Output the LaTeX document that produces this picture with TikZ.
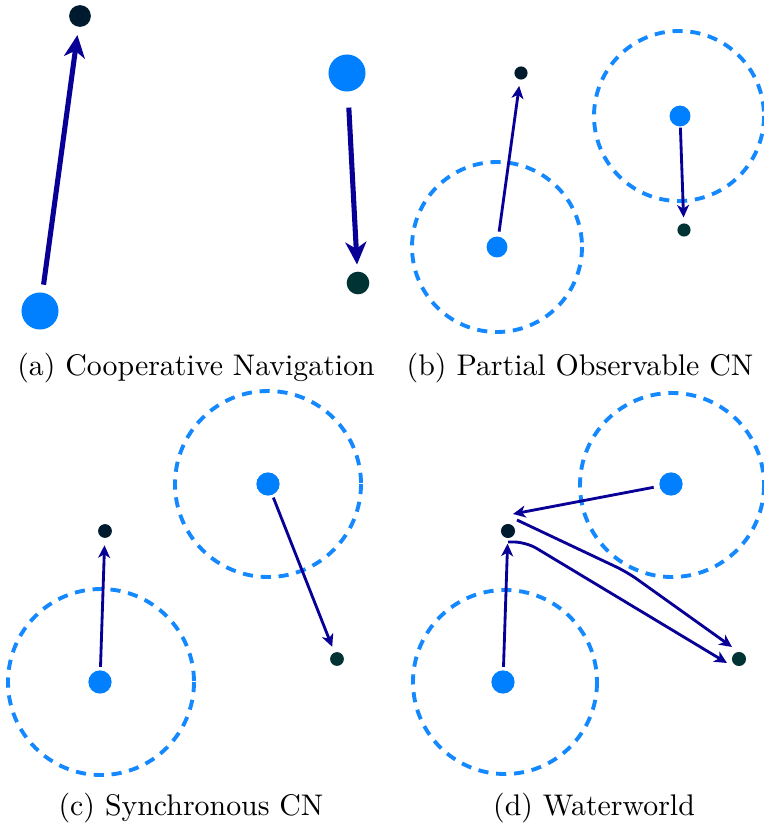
\documentclass[tikz,border=0pt]{standalone}
\usetikzlibrary{arrows.meta}
\definecolor{agentblue}{RGB}{0,128,255}
\definecolor{ringblue}{RGB}{20,136,255}
\definecolor{arrowblue}{RGB}{8,0,150}
\definecolor{goalnavy}{RGB}{0,26,46}
\definecolor{goalteal}{RGB}{0,52,52}
\tikzset{
  agent/.style={circle, fill=agentblue, inner sep=0pt, minimum size=#1},
  goalA/.style={circle, fill=goalnavy, inner sep=0pt, minimum size=#1},
  goalB/.style={circle, fill=goalteal, inner sep=0pt, minimum size=#1},
  ring/.style={draw=ringblue, line width=1.3pt, dash pattern=on 3.4pt off 2.6pt},
  bigarrow/.style={draw=arrowblue, line width=1.7pt, -{Stealth[length=7.5pt,width=7pt,inset=2.2pt]}},
  thinarrow/.style={draw=arrowblue, line width=0.95pt, -{Stealth[length=4.2pt,width=4pt,inset=1.2pt]}},
  caption/.style={inner sep=0pt, font=\fontsize{10}{12}\selectfont}
}
\begin{document}
\begin{tikzpicture}[x=0.335pt, y=-0.335pt]
\useasboundingbox (0,0) rectangle (763,831);
% ---------- (a) ----------
\node[agent=12.4pt] (a1) at (40,311) {};
\node[goalA=7.3pt] (ag1) at (80,16) {};
\node[agent=12.4pt] (a2) at (347,73) {};
\node[goalB=7.6pt] (ag2) at (358,283) {};
\draw[bigarrow, shorten <=2.5pt, shorten >=2.6pt] (a1) -- (ag1);
\draw[bigarrow, shorten <=5.2pt, shorten >=2.2pt] (a2) -- (ag2);
\node[caption] (capa) at (196,368) {(a) Cooperative Navigation};
% ---------- (b) ----------
\draw[ring] (497,247) circle (85);
\draw[ring] (679,116) circle (85);
\node[agent=7pt] (b1) at (497,247) {};
\node[goalA=4.4pt] (bg1) at (521,73) {};
\node[agent=7pt] (b2) at (680,116) {};
\node[goalB=4.4pt] (bg2) at (684,230) {};
\draw[thinarrow, shorten <=1.5pt, shorten >=2pt] (b1) -- (bg1);
\draw[thinarrow, shorten <=0.2pt, shorten >=1.8pt] (b2) -- (bg2);
\node[caption] (capb) at (580,368) {(b) Partial Observable CN};
% ---------- (c) ----------
\draw[ring] (268,484) circle (93);
\draw[ring] (101,682) circle (93);
\node[agent=7.8pt] (c1) at (268,484) {};
\node[goalB=4.6pt] (cg1) at (337,659) {};
\node[agent=7.8pt] (c2) at (100,682) {};
\node[goalA=4.6pt] (cg2) at (105,531) {};
\draw[thinarrow, shorten <=0.8pt, shorten >=1.9pt] (c1) -- (cg1);
\draw[thinarrow, shorten <=1pt, shorten >=2.3pt] (c2) -- (cg2);
\node[caption] (capc) at (191,808) {(c) Synchronous CN};
% ---------- (d) ----------
\draw[ring] (672,485) circle (92);
\draw[ring] (505,682) circle (92);
\node[agent=7.8pt] (d1) at (671,484) {};
\node[agent=7.8pt] (d2) at (503,682) {};
\node[goalA=4.7pt] (dg1) at (508,531) {};
\node[goalB=4.7pt] (dg2) at (739,659) {};
\coordinate (d1tip) at (513,514);
\coordinate (pAstart) at (517,520);
\coordinate (pAbend) at (627,572);
\coordinate (pAtip) at (732,647);
\coordinate (pBstart) at (508,542);
\coordinate (pBbend) at (526,542);
\coordinate (pBtip) at (727,663);
\draw[thinarrow, shorten <=1.8pt] (d1) -- (d1tip);
\draw[thinarrow, shorten <=1pt, shorten >=1.7pt] (d2) -- (dg1);
\draw[thinarrow, rounded corners=4pt] (pAstart) -- (pAbend) -- (pAtip);
\draw[thinarrow, rounded corners=4pt] (pBstart) -- (pBbend) -- (pBtip);
\node[caption] (capd) at (594,808) {(d) Waterworld};
\end{tikzpicture}
\end{document}
